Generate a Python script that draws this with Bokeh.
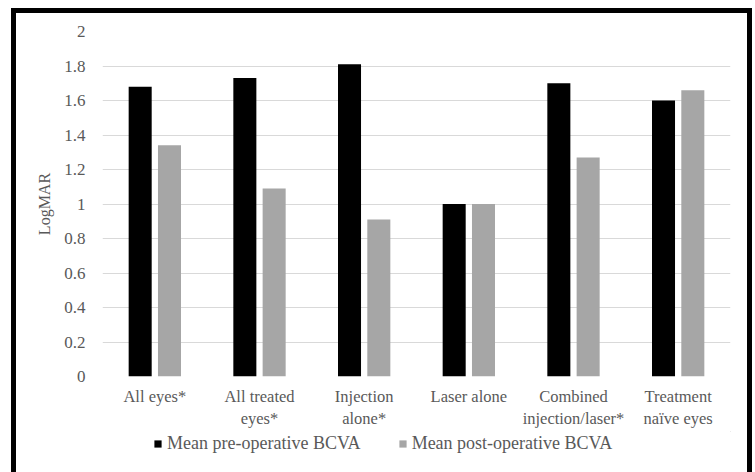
from bokeh.plotting import figure
from bokeh.models import FactorRange, Legend, LegendItem, FixedTicker, ColumnDataSource, Range1d
from bokeh.layouts import column
from bokeh.transform import dodge
from bokeh.embed import file_html
from bokeh.resources import INLINE

categories = ["All eyes*", "All treated\neyes*", "Injection\nalone*", "Laser alone",
              "Combined\ninjection/laser*", "Treatment\nnaïve eyes"]
pre_op = [1.68, 1.73, 1.81, 1.00, 1.70, 1.60]
post_op = [1.34, 1.09, 0.91, 1.00, 1.27, 1.66]
series_names = ["Mean pre-operative BCVA", "Mean post-operative BCVA"]
y_ticks = [0, 0.2, 0.4, 0.6, 0.8, 1, 1.2, 1.4, 1.6, 1.8, 2]
y_tick_labels = ["0", "0.2", "0.4", "0.6", "0.8", "1", "1.2", "1.4", "1.6", "1.8", "2"]

FONT = "Liberation Serif"
TXT = "#595959"
PRE_COLOR = "#000000"
POST_COLOR = "#a6a6a6"

source = ColumnDataSource(dict(cat=categories, pre=pre_op, post=post_op))

p = figure(x_range=FactorRange(factors=categories), y_range=(0, 2),
           width=731, height=418, output_backend="svg", toolbar_location=None,
           min_border_left=86, min_border_right=17, min_border_top=18, min_border_bottom=50)

p.vbar(x=dodge("cat", -0.14, range=p.x_range), top="pre", width=0.22, source=source,
       fill_color=PRE_COLOR, line_color=None)
p.vbar(x=dodge("cat", 0.14, range=p.x_range), top="post", width=0.22, source=source,
       fill_color=POST_COLOR, line_color=None)

p.outline_line_color = None
p.xgrid.grid_line_color = None
p.ygrid.grid_line_color = "#d9d9d9"
p.ygrid.grid_line_width = 1

p.yaxis.ticker = FixedTicker(ticks=y_ticks)
p.yaxis.major_label_overrides = {t: l for t, l in zip(y_ticks, y_tick_labels)}
for ax in (p.xaxis[0], p.yaxis[0]):
    ax.axis_line_color = None
    ax.major_tick_line_color = None
    ax.minor_tick_line_color = None
    ax.major_tick_out = 0
    ax.major_tick_in = 0
    ax.major_label_text_font = FONT
    ax.major_label_text_color = TXT

p.yaxis.major_label_text_font_size = "17px"
p.xaxis.major_label_text_font_size = "16.5px"
p.yaxis.major_label_standoff = 17
p.yaxis.axis_label = "LogMAR"
p.yaxis.axis_label_text_font = FONT
p.yaxis.axis_label_text_font_size = "16px"
p.yaxis.axis_label_text_font_style = "normal"
p.yaxis.axis_label_text_color = TXT
p.yaxis.axis_label_standoff = 8
p.xaxis.major_label_standoff = 10

# legend strip (swatches drawn from renderers placed outside the visible range)
pl = figure(width=731, height=46, output_backend="svg", toolbar_location=None,
            x_range=Range1d(0, 1), y_range=Range1d(0, 1),
            min_border=0, min_border_left=0, min_border_right=0,
            min_border_top=0, min_border_bottom=0)
pl.axis.visible = False
pl.grid.visible = False
pl.outline_line_color = None
l1 = pl.vbar(x=[5], top=[5], bottom=[4], width=0.1, fill_color=PRE_COLOR, line_color=None)
l2 = pl.vbar(x=[5], top=[5], bottom=[4], width=0.1, fill_color=POST_COLOR, line_color=None)
legend = Legend(items=[LegendItem(label=series_names[0], renderers=[l1]),
                       LegendItem(label=series_names[1], renderers=[l2])],
                location=(51, 23), orientation="horizontal",
                label_text_font=FONT, label_text_font_size="18px", label_text_color=TXT,
                glyph_width=9, glyph_height=9, label_standoff=5, spacing=37,
                padding=0, margin=0, border_line_color=None, background_fill_alpha=0)
pl.add_layout(legend, "center")

layout = column(p, pl, spacing=0,
                styles={"border": "5px solid black", "border-bottom": "none",
                        "margin-left": "11px", "margin-top": "8px"})

open("out.html", "w").write(file_html(layout, INLINE))
